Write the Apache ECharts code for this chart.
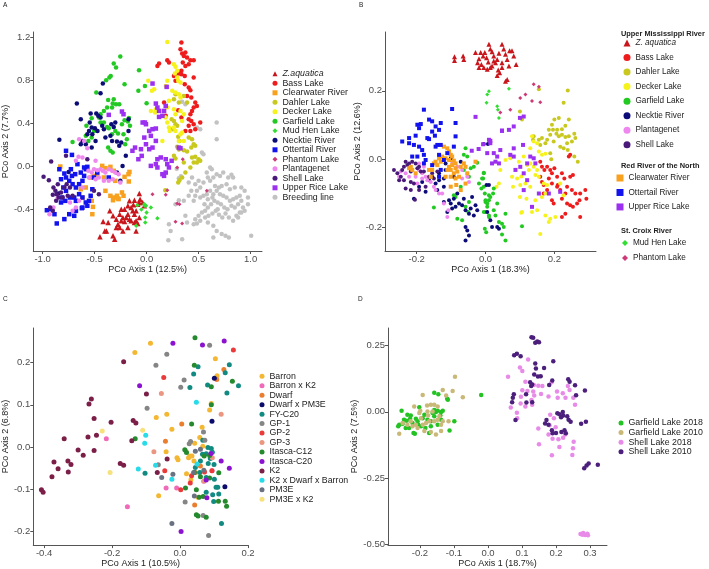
<!DOCTYPE html>
<html><head><meta charset="utf-8">
<script src="https://cdn.jsdelivr.net/npm/echarts@6/dist/echarts.min.js"></script>
<style>html,body{margin:0;padding:0;background:#fff}#c{width:709px;height:569px}</style>
</head><body><div id="c"></div>
<script>
// ---------- tick values ----------
const A_xTicks=[-1.0,-0.5,0.0,0.5,1.0], A_yTicks=[-0.4,0.0,0.4,0.8,1.2];
const B_xTicks=[-0.2,0.0,0.2], B_yTicks=[-0.2,0.0,0.2];
const C_xTicks=[-0.4,-0.2,0.0,0.2], C_yTicks=[-0.2,-0.1,0.0,0.1,0.2];
const D_xTicks=[-0.2,-0.1,0.0,0.1,0.2,0.3], D_yTicks=[-0.50,-0.25,0.00,0.25];

// ---------- Panel A ----------
const A_zaquatica=[[-0.449,-0.653],[-0.418,-0.511],[-0.402,-0.598],[-0.370,-0.520],[-0.323,-0.644],[-0.307,-0.675],[-0.291,-0.567],[-0.275,-0.536],[-0.259,-0.443],[-0.244,-0.396],[-0.228,-0.474],[-0.212,-0.511],[-0.196,-0.474],[-0.180,-0.443],[-0.165,-0.319],[-0.149,-0.381],[-0.133,-0.412],[-0.117,-0.443],[-0.101,-0.412],[-0.085,-0.350],[-0.070,-0.334],[-0.117,-0.520],[-0.149,-0.505],[-0.180,-0.567],[-0.228,-0.598],[-0.259,-0.567],[-0.212,-0.396],[-0.165,-0.489],[-0.101,-0.505],[-0.070,-0.474],[-0.180,-0.365],[-0.244,-0.505],[-0.291,-0.489],[-0.323,-0.458],[-0.354,-0.412],[-0.386,-0.598],[-0.101,-0.598],[-0.085,-0.529],[-0.117,-0.313],[-0.127,-0.356],[-0.070,-0.251],[-0.063,-0.303],[-0.038,-0.334],[-0.022,-0.365]];
const A_bass=[[0.335,1.152],[0.326,1.090],[0.342,1.050],[0.358,1.028],[0.373,1.059],[0.389,1.012],[0.348,0.966],[0.421,0.988],[0.453,0.988],[0.405,0.950],[0.373,0.935],[0.335,0.889],[0.310,0.864],[0.199,0.988],[0.215,0.966],[0.120,0.957],[0.104,0.935],[0.278,0.858],[0.335,0.858],[0.367,0.842],[0.453,0.827],[0.367,0.765],[0.405,0.734],[0.421,0.709],[0.389,0.656],[0.430,0.641],[0.468,0.594],[0.484,0.563],[0.453,0.548],[0.437,0.517],[0.421,0.486],[0.405,0.440],[0.430,0.424],[0.453,0.393],[0.516,0.409],[0.405,0.378],[0.468,0.347],[0.373,0.331],[0.278,0.796],[0.263,0.842],[0.304,0.523],[0.168,0.594],[0.184,0.471],[0.335,0.455],[0.421,0.331]];
const A_clearwater=[[-0.427,0.006],[-0.396,-0.015],[-0.348,-0.003],[-0.316,-0.040],[-0.475,-0.071],[-0.506,-0.087],[-0.538,-0.102],[-0.633,-0.211],[-0.585,-0.195],[-0.528,-0.319],[-0.516,-0.375],[-0.522,-0.443],[-0.396,-0.226],[-0.348,-0.272],[-0.316,-0.288],[-0.285,-0.272],[-0.269,-0.303],[-0.222,-0.272],[-0.237,-0.241],[-0.174,-0.071],[-0.212,-0.096],[-0.301,-0.133],[-0.411,-0.102],[-0.617,-0.288],[-0.171,-0.139],[-0.275,-0.297],[-0.323,-0.313],[-0.830,0.000],[-0.165,-0.050]];
const A_dahler=[[0.278,0.672],[0.263,0.625],[0.241,0.440],[0.263,0.424],[0.278,0.393],[0.294,0.378],[0.247,0.347],[0.304,0.276],[0.316,0.238],[0.294,0.183],[0.310,0.158],[0.358,0.152],[0.389,0.139],[0.405,0.269],[0.437,0.254],[0.453,0.207],[0.430,0.176],[0.468,0.192],[0.437,0.084],[0.468,0.090],[0.500,0.068],[0.516,0.053],[0.484,0.037],[0.453,0.037],[0.421,-0.009],[0.373,-0.056],[0.342,-0.102],[0.316,-0.127],[0.304,-0.149],[0.358,0.037],[0.278,0.074],[0.263,0.099],[0.358,0.656],[0.389,0.594],[0.310,0.594],[0.180,-0.220]];
const A_decker=[[0.199,1.158],[0.263,0.950],[0.278,0.926],[0.294,0.889],[0.272,0.864],[0.294,0.827],[0.304,0.796],[0.326,0.780],[0.199,0.796],[0.184,0.749],[0.247,0.703],[0.278,0.687],[0.310,0.672],[0.326,0.641],[0.215,0.610],[0.199,0.548],[0.263,0.533],[0.278,0.486],[0.184,0.455],[0.199,0.409],[0.215,0.362],[0.222,0.331],[0.278,0.331],[0.326,0.300],[0.342,0.316],[0.310,0.238],[0.358,0.238],[0.152,0.238],[0.082,0.502],[0.041,0.517],[0.051,0.703],[0.089,0.533],[0.326,0.517],[0.358,0.486],[0.342,0.424],[0.263,0.362],[0.073,0.718],[0.016,0.796]];
const A_garfield=[[-0.253,1.022],[-0.316,0.957],[-0.294,0.920],[-0.389,0.802],[-0.358,0.827],[-0.345,0.842],[-0.484,0.687],[-0.212,0.765],[-0.073,0.895],[-0.079,0.703],[-0.016,0.749],[0.000,0.588],[-0.370,0.619],[-0.316,0.625],[-0.326,0.585],[-0.294,0.579],[-0.263,0.579],[-0.332,0.548],[-0.459,0.455],[-0.443,0.409],[-0.411,0.409],[-0.528,0.449],[-0.579,0.378],[-0.560,0.238],[-0.506,0.331],[-0.380,0.368],[-0.364,0.356],[-0.332,0.300],[-0.301,0.331],[-0.275,0.307],[-0.222,0.300],[-0.190,0.254],[-0.206,0.207],[-0.370,0.176],[-0.348,0.146],[-0.326,0.130],[-0.712,0.229],[-0.585,0.285],[-0.528,0.269],[-0.443,0.486],[-0.411,0.517],[-0.380,0.548],[-0.237,0.393],[-0.212,0.430],[-0.180,0.418],[-0.170,0.450],[-0.160,0.380]];
const A_mudhen=[[-0.022,-0.350],[-0.006,-0.365],[0.041,-0.381],[0.000,-0.427],[-0.013,-0.474],[0.104,-0.480],[-0.013,-0.520],[-0.016,-0.365],[-0.090,-0.360],[-0.050,-0.400],[-0.100,-0.550]];
const A_necktie=[[-0.421,0.771],[-0.443,0.681],[-0.671,0.585],[-0.633,0.440],[-0.538,0.492],[-0.484,0.492],[-0.465,0.471],[-0.443,0.455],[-0.547,0.409],[-0.528,0.362],[-0.497,0.356],[-0.472,0.331],[-0.554,0.331],[-0.570,0.300],[-0.522,0.300],[-0.491,0.238],[-0.528,0.176],[-0.617,0.238],[-0.633,0.207],[-0.585,0.207],[-0.427,0.378],[-0.411,0.347],[-0.396,0.269],[-0.339,0.393],[-0.316,0.368],[-0.301,0.409],[-0.348,0.285],[-0.332,0.238],[-0.285,0.232],[-0.263,0.192],[-0.244,0.223],[-0.174,0.331],[-0.231,0.006],[-0.285,-0.056],[-0.253,-0.133],[-0.174,0.440],[-0.839,0.248],[-0.200,0.100],[-0.750,-0.050],[-0.850,-0.250]];
const A_ottertail=[[-0.775,0.146],[-0.718,0.108],[-0.839,-0.025],[-0.791,-0.065],[-0.823,-0.118],[-0.775,-0.102],[-0.744,-0.133],[-0.718,-0.087],[-0.687,-0.071],[-0.712,-0.164],[-0.680,-0.195],[-0.649,-0.164],[-0.617,-0.133],[-0.601,-0.087],[-0.585,-0.025],[-0.570,-0.003],[-0.601,-0.009],[-0.633,-0.056],[-0.801,-0.195],[-0.775,-0.226],[-0.813,-0.288],[-0.823,-0.334],[-0.782,-0.319],[-0.737,-0.288],[-0.696,-0.288],[-0.680,-0.319],[-0.649,-0.257],[-0.617,-0.288],[-0.585,-0.334],[-0.570,-0.365],[-0.617,-0.381],[-0.554,-0.319],[-0.538,-0.272],[-0.959,-0.406],[-0.918,-0.396],[-0.886,-0.443],[-0.864,-0.529],[-0.791,-0.489],[-0.744,-0.443],[-0.696,-0.458],[-0.680,-0.412],[-0.623,-0.387],[-0.522,-0.211],[-0.364,-0.102],[-0.728,-0.025],[-0.665,0.022],[-0.475,-0.056],[-0.506,-0.102]];
const A_phantom=[[0.057,-0.257],[0.184,-0.263],[0.199,-0.220],[0.294,-0.344],[0.316,-0.350],[0.278,-0.514],[0.342,-0.529],[0.579,-0.226],[0.348,0.068],[0.294,-0.009]];
const A_plantagenet=[[-0.649,0.254],[-0.601,0.238],[-0.570,0.170],[-0.655,0.090],[-0.617,0.084],[-0.560,-0.040],[-0.528,-0.056],[-0.506,-0.025],[-0.475,-0.034],[-0.443,-0.025],[-0.421,-0.040],[-0.396,-0.056],[-0.364,-0.025],[-0.332,-0.040],[-0.301,-0.056],[-0.269,-0.071],[-0.253,-0.149],[-0.326,-0.118],[-0.364,-0.133],[-0.411,-0.133],[-0.459,-0.102],[-0.491,-0.118],[-0.554,-0.102],[-0.617,-0.195],[-0.649,-0.319],[-0.680,-0.381],[-0.737,-0.334],[-0.854,-0.288],[-0.934,-0.443],[-0.896,-0.381],[-0.712,-0.412],[-0.491,0.053],[-0.680,0.053]];
const A_shell=[[-0.918,0.046],[-0.991,-0.096],[-0.940,-0.127],[-0.896,-0.195],[-0.877,-0.226],[-0.864,-0.257],[-0.845,-0.288],[-0.902,-0.263],[-0.823,-0.241],[-0.791,-0.195],[-0.769,-0.164],[-0.737,-0.195],[-0.854,-0.164],[-0.775,0.099],[-0.570,0.068],[-0.506,-0.226],[-0.459,-0.257],[-0.927,-0.381],[-0.902,-0.412],[-0.807,-0.288],[-0.759,-0.272],[-0.712,-0.272],[-0.870,-0.319]];
const A_upperrice=[[0.057,0.771],[0.089,0.585],[0.104,0.548],[0.120,0.517],[0.120,0.461],[0.152,0.471],[0.184,0.563],[0.168,0.517],[-0.038,0.409],[-0.006,0.393],[0.025,0.331],[0.057,0.347],[0.089,0.353],[0.041,0.285],[0.089,0.238],[0.057,0.176],[0.025,0.161],[-0.006,0.207],[-0.022,0.269],[0.104,0.068],[0.136,0.084],[0.184,0.068],[0.199,0.022],[0.089,0.022],[0.041,0.006],[0.104,-0.009],[0.152,-0.071],[0.168,-0.087],[0.184,-0.056],[0.215,-0.009],[0.241,0.053],[0.310,0.176],[0.326,0.170],[-0.364,0.480],[-0.237,0.511],[-0.222,0.486],[-0.016,0.409],[-0.111,0.176],[-0.136,0.146],[-0.054,0.161],[-0.047,0.099],[-0.079,0.068],[0.193,0.740]];
const A_breeding=[[0.674,0.409],[0.674,0.254],[0.342,0.601],[0.373,0.579],[0.484,0.362],[0.516,0.347],[0.532,0.130],[0.547,0.115],[0.611,-0.009],[0.627,-0.025],[0.579,-0.056],[0.642,-0.102],[0.674,-0.071],[0.706,-0.087],[0.737,-0.056],[0.785,-0.102],[0.816,-0.077],[0.832,-0.102],[0.848,-0.195],[0.801,-0.211],[0.769,-0.164],[0.722,-0.180],[0.696,-0.195],[0.658,-0.180],[0.611,-0.133],[0.589,-0.102],[0.547,-0.149],[0.516,-0.195],[0.484,-0.226],[0.468,-0.272],[0.453,-0.319],[0.516,-0.288],[0.547,-0.272],[0.579,-0.257],[0.611,-0.226],[0.642,-0.257],[0.674,-0.226],[0.706,-0.257],[0.737,-0.272],[0.769,-0.288],[0.801,-0.319],[0.832,-0.303],[0.864,-0.288],[0.896,-0.272],[0.911,-0.319],[0.880,-0.350],[0.848,-0.381],[0.816,-0.365],[0.778,-0.396],[0.747,-0.381],[0.715,-0.350],[0.684,-0.334],[0.652,-0.319],[0.620,-0.350],[0.589,-0.381],[0.563,-0.412],[0.532,-0.427],[0.500,-0.458],[0.468,-0.489],[0.453,-0.536],[0.484,-0.529],[0.516,-0.505],[0.563,-0.474],[0.595,-0.458],[0.633,-0.437],[0.665,-0.412],[0.696,-0.449],[0.728,-0.474],[0.759,-0.437],[0.791,-0.474],[0.832,-0.505],[0.880,-0.474],[0.911,-0.427],[0.943,-0.412],[0.975,-0.350],[0.927,-0.381],[0.896,-0.427],[0.864,-0.458],[0.589,-0.520],[0.642,-0.551],[0.674,-0.598],[0.722,-0.628],[0.759,-0.644],[0.791,-0.659],[1.006,-0.644],[0.642,-0.659],[0.373,-0.458],[0.389,-0.520],[0.342,-0.675],[0.215,-0.536],[0.231,-0.598],[0.209,-0.684],[0.278,-0.350],[0.310,-0.313],[0.358,-0.319],[0.405,-0.272],[0.430,-0.226],[0.468,-0.164],[0.500,-0.133],[0.437,-0.102],[0.405,-0.149],[0.911,-0.195],[0.943,-0.226],[0.975,-0.288],[0.684,-0.396],[0.633,-0.288],[0.589,-0.303],[0.557,-0.350],[0.290,-0.020],[0.330,-0.090],[0.310,-0.110]];

// ---------- Panel B ----------
const B_zaquatica=[[-0.090,0.300],[-0.090,0.289],[-0.065,0.302],[-0.063,0.292],[-0.029,0.312],[-0.014,0.312],[-0.007,0.302],[-0.019,0.294],[-0.002,0.312],[0.003,0.297],[0.010,0.336],[0.014,0.322],[0.019,0.314],[0.024,0.302],[0.008,0.284],[-0.012,0.277],[-0.005,0.268],[0.005,0.263],[0.019,0.273],[0.029,0.282],[0.034,0.292],[0.039,0.310],[0.048,0.336],[0.053,0.322],[0.058,0.307],[0.063,0.292],[0.070,0.317],[0.077,0.317],[0.082,0.302],[0.089,0.277],[0.068,0.273],[0.048,0.282],[0.034,0.245],[0.041,0.253],[0.058,0.228],[0.063,0.233],[0.048,0.268],[0.037,0.261],[-0.019,0.268],[-0.023,0.282],[0.024,0.287],[0.014,0.268]];
const B_bass=[[0.159,-0.007],[0.164,-0.022],[0.171,-0.031],[0.179,-0.022],[0.188,-0.031],[0.193,-0.041],[0.200,-0.026],[0.208,-0.051],[0.222,-0.041],[0.229,-0.056],[0.246,-0.051],[0.254,-0.046],[0.159,-0.051],[0.164,-0.066],[0.169,-0.075],[0.184,-0.056],[0.193,-0.071],[0.208,-0.080],[0.217,-0.090],[0.232,-0.100],[0.237,-0.129],[0.246,-0.134],[0.254,-0.139],[0.266,-0.129],[0.273,-0.120],[0.275,-0.100],[0.261,-0.100],[0.290,-0.090],[0.293,-0.115],[0.275,-0.169],[0.232,-0.159],[0.222,-0.169],[0.222,-0.115],[0.237,-0.080],[0.251,-0.090],[0.193,-0.120],[0.198,-0.129],[0.242,0.008],[0.246,0.013],[0.210,-0.075],[0.179,-0.090],[0.169,-0.100]];
const B_dahler=[[0.239,0.201],[0.227,0.165],[0.242,0.116],[0.213,0.121],[0.200,0.116],[0.193,0.101],[0.184,0.086],[0.196,0.086],[0.206,0.075],[0.213,0.067],[0.222,0.072],[0.232,0.065],[0.242,0.067],[0.258,0.075],[0.261,0.062],[0.251,0.052],[0.237,0.047],[0.227,0.032],[0.217,0.037],[0.239,0.027],[0.258,0.008],[0.268,-0.007],[0.198,0.052],[0.179,0.057],[0.164,0.062],[0.155,0.057],[0.140,0.067],[0.138,0.057],[0.159,0.042],[0.174,0.047],[0.106,0.116],[0.188,0.018],[0.191,0.000],[0.188,0.072],[0.208,0.086],[0.222,0.088],[0.232,0.098],[0.155,0.205],[0.100,0.140]];
const B_decker=[[0.135,0.067],[0.140,0.052],[0.150,0.047],[0.130,0.032],[0.155,0.023],[0.164,0.013],[0.174,0.016],[0.072,0.003],[0.058,-0.002],[0.097,-0.007],[0.111,0.008],[0.121,-0.017],[0.130,-0.012],[0.126,-0.031],[0.140,-0.022],[0.150,-0.031],[0.145,-0.046],[0.155,-0.051],[0.169,-0.071],[0.179,-0.075],[0.174,-0.100],[0.164,-0.110],[0.145,-0.120],[0.130,-0.080],[0.116,-0.071],[0.101,-0.075],[0.092,-0.056],[0.077,-0.051],[0.043,-0.031],[0.039,-0.071],[0.032,-0.080],[0.106,-0.154],[0.135,-0.154],[0.150,-0.149],[0.174,-0.164],[0.184,-0.183],[0.188,-0.174],[0.203,-0.169],[0.159,-0.218],[0.080,-0.080],[0.227,-0.105],[0.217,-0.071],[0.100,-0.110],[0.119,-0.115],[0.104,-0.156],[0.104,-0.050]];
const B_garfield=[[-0.005,-0.039],[-0.007,-0.056],[-0.005,-0.080],[0.024,-0.085],[0.022,-0.100],[0.014,-0.110],[0.010,-0.120],[0.000,-0.125],[0.005,-0.139],[0.000,-0.154],[0.034,-0.129],[0.058,-0.159],[0.039,-0.183],[0.048,-0.188],[0.053,-0.198],[0.048,-0.220],[0.058,-0.237],[0.106,-0.196],[0.010,-0.164],[0.029,-0.164],[0.024,-0.149],[-0.058,0.032],[-0.063,0.013],[-0.053,0.008],[-0.063,-0.031],[-0.043,-0.026],[-0.034,-0.022],[-0.005,-0.041],[-0.010,-0.056],[-0.019,-0.071],[-0.012,-0.085],[-0.002,-0.100],[0.010,-0.105],[0.000,-0.120],[0.005,-0.129],[-0.005,-0.154],[-0.050,-0.154],[-0.058,-0.139],[-0.087,-0.110],[-0.082,-0.174],[-0.068,-0.178],[-0.150,-0.141],[-0.002,-0.203],[0.002,-0.213],[0.010,-0.169],[-0.024,-0.010],[-0.048,-0.051],[-0.072,-0.080],[-0.092,-0.105],[-0.048,-0.125]];
const B_necktie=[[-0.208,-0.115],[-0.135,-0.041],[-0.121,-0.056],[-0.116,-0.031],[-0.106,-0.120],[-0.101,-0.129],[-0.097,-0.144],[-0.087,-0.139],[-0.077,-0.129],[-0.068,-0.134],[-0.058,-0.149],[-0.048,-0.159],[-0.043,-0.144],[-0.029,-0.134],[-0.024,-0.149],[-0.034,-0.164],[-0.058,-0.198],[-0.053,-0.208],[-0.048,-0.223],[-0.058,-0.237],[-0.111,-0.154],[-0.121,-0.125],[-0.092,-0.115],[-0.082,-0.100],[-0.135,-0.061],[-0.145,-0.071],[-0.155,-0.051],[-0.164,-0.061],[-0.121,-0.080],[-0.140,-0.090],[-0.072,-0.007],[-0.101,0.003],[-0.116,-0.012],[-0.193,-0.080],[-0.184,-0.066],[-0.174,-0.095],[-0.092,-0.051],[-0.063,-0.115],[-0.039,-0.110],[0.003,-0.075],[0.010,-0.075],[0.005,-0.154],[0.014,-0.178],[0.034,-0.198],[0.039,-0.203],[0.019,-0.198],[-0.005,0.045],[0.007,0.045]];
const B_plantagenet=[[-0.251,-0.051],[-0.246,-0.036],[-0.232,-0.041],[-0.222,-0.051],[-0.203,-0.051],[-0.193,-0.031],[-0.184,-0.041],[-0.174,-0.051],[-0.169,-0.061],[-0.159,-0.066],[-0.184,-0.056],[-0.198,-0.071],[-0.150,-0.080],[-0.145,-0.090],[-0.135,-0.100],[-0.126,-0.100],[-0.082,-0.022],[-0.068,-0.031],[-0.053,-0.051],[-0.048,-0.066],[-0.068,-0.056],[-0.121,-0.129],[-0.108,-0.149],[-0.111,-0.169],[-0.193,-0.012],[-0.179,-0.022],[-0.097,-0.007]];
const B_shell=[[-0.266,-0.031],[-0.256,-0.041],[-0.246,-0.051],[-0.242,-0.031],[-0.237,-0.022],[-0.227,-0.017],[-0.222,-0.012],[-0.213,-0.007],[-0.203,-0.012],[-0.193,-0.022],[-0.188,-0.036],[-0.179,-0.036],[-0.198,-0.026],[-0.251,-0.061],[-0.237,-0.061],[-0.217,-0.066],[-0.208,-0.071],[-0.232,-0.085],[-0.217,-0.090],[-0.193,-0.090],[-0.174,-0.080],[-0.164,-0.051],[-0.155,-0.041],[-0.150,-0.056],[-0.140,-0.036],[-0.205,-0.118],[-0.232,-0.007],[-0.217,-0.036]];
const B_clearwater=[[-0.121,0.037],[-0.111,0.032],[-0.106,0.023],[-0.126,0.008],[-0.116,0.003],[-0.106,-0.002],[-0.101,0.013],[-0.097,0.008],[-0.092,-0.004],[-0.087,-0.012],[-0.097,-0.017],[-0.106,-0.022],[-0.111,-0.031],[-0.101,-0.031],[-0.087,-0.026],[-0.082,-0.036],[-0.092,-0.041],[-0.101,-0.051],[-0.116,-0.051],[-0.087,-0.056],[-0.077,-0.051],[-0.072,-0.022],[-0.063,-0.012],[-0.058,-0.022],[-0.135,0.003],[-0.145,-0.007],[-0.150,-0.012],[-0.217,-0.022],[-0.213,-0.031],[-0.222,-0.026],[-0.203,-0.041],[-0.164,-0.031],[-0.155,-0.031],[-0.053,-0.041],[-0.029,-0.007],[-0.085,-0.075],[-0.101,-0.080],[-0.072,-0.090],[-0.058,-0.071],[-0.140,-0.017],[-0.130,-0.007],[-0.159,-0.051]];
const B_ottertail=[[-0.179,0.145],[-0.097,0.147],[-0.198,0.101],[-0.193,0.091],[-0.188,0.103],[-0.164,0.116],[-0.155,0.111],[-0.145,0.096],[-0.135,0.086],[-0.130,0.106],[-0.147,0.069],[-0.155,0.081],[-0.169,0.062],[-0.164,0.059],[-0.203,0.069],[-0.222,0.062],[-0.242,0.052],[-0.208,0.042],[-0.193,0.037],[-0.184,0.027],[-0.213,0.008],[-0.198,0.008],[-0.179,0.013],[-0.145,0.037],[-0.140,0.042],[-0.130,0.042],[-0.087,0.106],[-0.087,0.067],[-0.092,0.037],[-0.111,0.018],[-0.135,0.013],[-0.121,-0.002],[-0.179,-0.012],[-0.174,-0.002],[-0.130,-0.031],[-0.135,-0.051],[-0.155,-0.017],[-0.222,0.047]];
const B_upperrice=[[0.100,0.121],[0.111,0.125],[0.082,0.096],[0.068,0.086],[0.048,0.084],[0.010,0.057],[0.014,0.047],[0.005,0.018],[0.024,0.018],[0.034,0.008],[0.029,-0.007],[0.019,-0.012],[0.039,-0.012],[0.043,0.027],[0.072,0.013],[0.082,0.008],[0.101,-0.022],[0.111,-0.041],[0.121,-0.061],[0.111,-0.090],[0.121,-0.012],[0.130,0.008],[0.140,0.003],[0.145,-0.012],[0.155,-0.100],[0.184,-0.100],[0.135,-0.139],[0.082,0.032],[0.109,0.042],[0.217,-0.095],[0.087,-0.031],[-0.029,0.124],[-0.020,0.030],[-0.040,0.025],[-0.007,0.044],[0.014,0.054],[0.048,0.083]];
const B_mudhen=[[0.010,0.199],[0.005,0.189],[0.003,0.165],[0.034,0.155],[0.036,0.145],[0.039,0.121],[0.068,0.206]];
const B_phantom=[[0.140,0.219],[0.155,0.212],[0.101,0.179],[0.116,0.189],[0.135,0.170],[0.159,0.167],[0.072,0.145],[0.043,0.137]];

// ---------- Panel C ----------
const C_barron=[[-0.133,0.224],[-0.087,0.246],[0.104,0.209],[0.109,0.169],[0.087,0.088],[0.065,0.047],[0.058,0.023],[-0.070,0.070],[-0.039,0.078],[-0.024,0.042],[-0.041,-0.011],[-0.009,-0.025],[-0.006,-0.030],[0.025,-0.025],[0.035,-0.021],[0.043,0.009],[0.067,0.002],[0.032,-0.077],[0.053,-0.119],[-0.063,-0.115],[0.041,-0.033],[0.019,-0.063],[0.092,0.103],[0.029,-0.021],[0.017,-0.009]];
const C_barronK2=[[-0.217,0.020],[-0.155,-0.141],[-0.041,-0.097],[-0.010,-0.097],[0.070,-0.081],[0.094,-0.056]];
const C_dwarf=[[0.005,0.055],[-0.043,0.014],[0.129,0.184],[0.108,0.160],[0.043,-0.137],[0.045,-0.060],[0.060,-0.045]];
const C_dwarfPM3E=[[0.101,0.163],[0.094,0.061],[0.132,-0.094]];
const C_fyc20=[[0.053,0.190],[0.040,0.173],[0.029,0.141],[0.081,0.147],[0.145,0.195],[0.133,0.176],[0.172,0.145],[0.138,0.128],[0.067,0.016],[0.082,-0.001],[0.092,-0.003],[0.095,-0.012],[0.066,-0.017],[0.077,-0.016],[0.060,-0.033],[0.045,-0.048],[0.083,-0.039],[0.100,-0.041],[0.058,-0.060],[0.077,-0.072],[0.101,-0.076],[0.106,-0.095],[0.111,-0.095],[0.077,-0.107],[0.096,-0.113],[0.099,-0.129],[0.114,-0.111],[0.122,-0.181],[0.089,-0.027],[-0.103,-0.062]];
const C_gp1=[[-0.039,0.220],[-0.071,0.194],[0.012,0.159],[0.002,0.142],[0.087,0.241],[-0.097,0.092],[0.031,0.013],[0.027,0.008],[0.073,0.016],[0.069,0.036],[0.015,-0.130],[0.068,-0.162],[0.084,-0.209],[-0.064,-0.042]];
const C_gp2=[[0.157,0.230],[-0.048,0.165],[-0.045,-0.056],[0.002,-0.101],[0.072,-0.059],[0.094,-0.056],[0.034,-0.068],[0.030,-0.085]];
const C_gp3=[[-0.055,0.127],[0.121,0.078],[-0.077,-0.011],[0.070,-0.080],[0.095,-0.025]];
const C_itascaC12=[[0.044,0.259],[0.042,0.194],[0.092,0.100],[0.092,0.143],[0.154,0.156],[0.034,0.055],[0.014,-0.006],[0.019,-0.013],[-0.132,0.020],[0.042,-0.060],[0.060,-0.070],[0.048,-0.101],[0.056,-0.119],[0.068,-0.117],[0.087,-0.073],[0.114,-0.061],[0.133,-0.128],[0.137,-0.140],[0.113,-0.128],[0.048,-0.160],[0.053,-0.163],[0.077,-0.166],[0.016,-0.097],[0.087,-0.020],[0.071,-0.021]];
const C_itascaC20=[[-0.021,0.246],[0.066,0.242],[0.130,0.251],[-0.119,0.145],[0.091,-0.015],[0.121,-0.033],[0.145,-0.050],[0.077,-0.078],[0.079,-0.120],[0.003,-0.200]];
const C_k2=[[-0.166,0.202],[-0.261,0.114],[-0.268,0.102],[-0.253,0.068],[-0.203,0.059],[-0.138,0.063],[-0.130,0.057],[-0.142,0.015],[-0.246,0.028],[-0.271,0.024],[-0.341,0.020],[-0.300,-0.007],[-0.285,-0.019],[-0.253,-0.008],[-0.330,-0.033],[-0.321,-0.041],[-0.371,-0.035],[-0.359,-0.051],[-0.329,-0.059],[-0.377,-0.070],[-0.408,-0.101],[-0.403,-0.107],[-0.176,-0.039],[-0.166,-0.043],[-0.099,0.126],[-0.038,-0.028],[-0.067,-0.060]];
const C_k2DwarfBarron=[[0.048,0.106],[-0.101,0.028],[-0.104,0.009],[-0.123,-0.052],[-0.072,-0.043],[-0.024,-0.076],[0.050,-0.040]];
const C_pm3e=[[-0.024,-0.181],[-0.021,-0.064],[-0.054,-0.072],[0.042,-0.116],[0.045,-0.010],[0.060,-0.005],[0.040,-0.060],[0.070,-0.055]];
const C_pm3eK2=[[-0.229,0.038],[-0.206,-0.060],[-0.110,0.040]];

// ---------- Panel D ----------
const D_garfield2018=[[-0.254,0.004],[-0.261,-0.049],[-0.264,-0.055],[-0.247,-0.030],[-0.251,-0.045],[-0.239,-0.034],[-0.232,-0.061],[-0.227,-0.014],[-0.219,-0.080],[-0.215,-0.083],[-0.207,-0.036],[-0.202,0.017],[-0.205,-0.049],[-0.197,-0.055],[-0.187,-0.011],[-0.184,-0.061],[-0.173,-0.080],[-0.168,-0.055],[-0.163,-0.005],[-0.158,0.007],[-0.153,-0.001],[-0.148,0.004],[-0.138,-0.001],[-0.140,-0.014],[-0.133,0.004],[-0.158,0.072],[-0.146,0.066],[-0.120,0.049],[-0.118,0.045],[-0.099,-0.036],[-0.113,-0.071],[-0.020,0.063],[-0.168,-0.036],[-0.178,-0.030],[-0.192,-0.024],[-0.212,-0.026],[-0.222,-0.042],[-0.242,-0.061],[-0.229,-0.026],[-0.237,-0.011],[-0.158,-0.017],[-0.148,-0.049],[-0.138,-0.030]];
const D_garfield2010=[[-0.261,-0.083],[-0.251,-0.042],[-0.237,-0.049],[-0.227,-0.036],[-0.217,0.020],[-0.202,-0.005],[-0.197,-0.024],[-0.192,0.063],[-0.179,0.024],[-0.176,-0.014],[-0.173,-0.036],[-0.168,0.026],[-0.158,0.026],[-0.148,0.020],[-0.143,-0.017],[-0.138,-0.049],[-0.133,0.082],[-0.123,0.061],[-0.116,-0.036],[-0.104,0.078],[-0.097,0.132],[-0.074,0.055],[-0.153,-0.086],[-0.168,-0.076],[-0.187,-0.073],[-0.207,-0.061],[-0.222,-0.055],[-0.182,-0.042],[-0.158,-0.036],[-0.212,-0.049],[-0.192,-0.049],[-0.178,0.001],[-0.148,-0.030],[-0.133,-0.036],[-0.163,0.001],[-0.199,0.004],[-0.138,-0.073]];
const D_shell2018=[[0.059,0.132],[0.094,0.167],[0.101,0.154],[0.118,0.197],[0.110,0.113],[0.101,0.081],[0.116,0.078],[0.135,0.101],[0.148,0.098],[0.160,0.097],[0.156,0.067],[0.133,0.076],[0.136,0.061],[0.128,0.044],[0.130,0.026],[0.110,0.020],[0.096,0.031],[0.097,0.057],[0.067,0.016],[0.085,-0.004],[0.086,-0.024],[0.187,0.111],[0.178,0.058],[0.203,0.076],[0.220,0.070],[0.235,0.097],[0.240,0.082],[0.205,0.053],[0.228,0.053],[0.251,0.053],[0.256,0.026],[0.183,-0.011],[0.194,-0.024],[0.181,-0.051],[0.199,-0.058],[0.148,-0.063],[0.178,-0.086],[0.190,-0.102],[0.207,-0.104],[0.221,-0.098],[0.227,-0.086],[0.252,-0.113],[0.250,-0.138],[0.248,-0.163],[0.210,-0.133],[0.188,-0.164],[0.150,-0.123],[0.272,-0.461],[0.280,-0.457],[0.286,-0.465],[0.292,-0.460],[0.294,-0.466],[0.278,-0.464]];
const D_shell2010=[[0.128,0.281],[0.133,0.279],[0.139,0.260],[0.145,0.265],[0.150,0.262],[0.077,0.213],[0.085,0.219],[0.096,0.209],[0.192,0.191],[0.139,0.182],[0.165,0.165],[0.141,0.163],[0.136,0.141],[0.147,0.133],[0.155,0.134],[0.124,0.111],[0.130,0.103],[0.127,0.097],[0.189,0.118],[0.180,0.101],[0.236,0.123],[0.240,0.113],[0.256,0.100],[0.285,0.080],[0.259,0.062],[0.076,0.066],[0.073,0.053],[0.071,0.036],[0.112,0.066],[0.113,0.035],[0.130,0.036],[0.204,-0.006],[0.210,-0.009],[0.220,-0.001],[0.221,-0.014],[0.215,-0.021],[0.233,-0.017],[0.237,-0.030],[0.243,-0.038],[0.274,-0.045],[0.288,-0.038],[0.172,-0.031],[0.168,-0.044],[0.178,-0.049],[0.188,-0.070],[0.190,-0.081],[0.200,-0.080],[0.216,-0.076],[0.225,-0.070],[0.229,-0.081],[0.081,-0.031],[0.283,-0.213],[0.290,-0.203],[0.296,-0.195],[0.323,-0.200]];

// ---------- build ----------
const FONT='"Liberation Sans", Arial, sans-serif';
function xAx(g,min,max,ticks,name,dec,gap){return{type:'value',gridIndex:g,min:min,max:max,name:name,nameLocation:'middle',nameGap:gap,
 nameTextStyle:{fontSize:9,color:'#222',fontFamily:FONT},
 axisLine:{onZero:false,lineStyle:{color:'#555',width:1}},
 axisTick:{show:true,length:3,lineStyle:{color:'#555'},customValues:ticks},
 axisLabel:{customValues:ticks,formatter:v=>v.toFixed(dec),fontSize:9.5,color:'#4d4d4d',margin:3,fontFamily:FONT},
 splitLine:{show:false}};}
function yAx(g,min,max,ticks,name,dec,gap){const a=xAx(g,min,max,ticks,name,dec,gap);a.nameRotate=90;return a;}

const series=[];
function sc(name,ax,data,color,symbol,size){series.push({type:'scatter',name:name,xAxisIndex:ax,yAxisIndex:ax,data:data,symbol:symbol,symbolSize:size,itemStyle:{color:color,opacity:1},emphasis:{disabled:true},silent:true,animation:false});}

const col={zaq:'#c8161c',bass:'#ee1c1c',clear:'#f7a11e',dahler:'#c9c81e',decker:'#f6f21c',garf:'#22c922',mud:'#33dd33',neck:'#0c0c78',otter:'#1212ee',phan:'#cc3a77',plant:'#ee88ee',shell:'#4a1a7a',rice:'#9b30f0',breed:'#c2c2c2'};

// Panel A (axis 0)
sc('A|Breeding line',0,A_breeding,col.breed,'circle',4.5);
sc('A|Z.aquatica',0,A_zaquatica,col.zaq,'triangle',5.5);
sc('A|Bass Lake',0,A_bass,col.bass,'circle',4.5);
sc('A|Clearwater River',0,A_clearwater,col.clear,'rect',4.5);
sc('A|Dahler Lake',0,A_dahler,col.dahler,'circle',4.5);
sc('A|Decker Lake',0,A_decker,col.decker,'circle',4.5);
sc('A|Garfield Lake',0,A_garfield,col.garf,'circle',4.5);
sc('A|Mud Hen Lake',0,A_mudhen,col.mud,'diamond',4.5);
sc('A|Necktie River',0,A_necktie,col.neck,'circle',4.5);
sc('A|Ottertail River',0,A_ottertail,col.otter,'rect',4.5);
sc('A|Phantom Lake',0,A_phantom,col.phan,'diamond',4);
sc('A|Plantagenet',0,A_plantagenet,col.plant,'circle',4.5);
sc('A|Shell Lake',0,A_shell,col.shell,'circle',4.5);
sc('A|Upper Rice Lake',0,A_upperrice,col.rice,'rect',4.5);

// Panel B (axis 1)
sc('B|Z. aquatica',1,B_zaquatica,col.zaq,'triangle',5);
sc('B|Bass Lake',1,B_bass,col.bass,'circle',4);
sc('B|Dahler Lake',1,B_dahler,col.dahler,'circle',4);
sc('B|Decker Lake',1,B_decker,col.decker,'circle',4);
sc('B|Garfield Lake',1,B_garfield,col.garf,'circle',4);
sc('B|Necktie River',1,B_necktie,col.neck,'circle',4);
sc('B|Plantagenet',1,B_plantagenet,col.plant,'circle',4);
sc('B|Shell Lake',1,B_shell,col.shell,'circle',4);
sc('B|Clearwater River',1,B_clearwater,col.clear,'rect',4);
sc('B|Ottertail River',1,B_ottertail,col.otter,'rect',4);
sc('B|Upper Rice Lake',1,B_upperrice,col.rice,'rect',4);
sc('B|Mud Hen Lake',1,B_mudhen,col.mud,'diamond',4);
sc('B|Phantom Lake',1,B_phantom,col.phan,'diamond',4);

// Panel C (axis 2)
const cc={barron:'#f4b731',bk2:'#f06aba',dwarf:'#ea7e2e',dpm:'#0b0b6b',fy:'#118a82',gp1:'#858585',gp2:'#ea3a3a',gp3:'#ea9680',c12:'#25892d',c20:'#8b12cf',k2:'#7c1f48',kdb:'#27dbe8',pm3e:'#6a7282',pk2:'#f7e17c'};
sc('C|Barron',2,C_barron,cc.barron,'circle',5);
sc('C|Barron x K2',2,C_barronK2,cc.bk2,'circle',5);
sc('C|Dwarf',2,C_dwarf,cc.dwarf,'circle',5);
sc('C|Dwarf x PM3E',2,C_dwarfPM3E,cc.dpm,'circle',5);
sc('C|FY-C20',2,C_fyc20,cc.fy,'circle',5);
sc('C|GP-1',2,C_gp1,cc.gp1,'circle',5);
sc('C|GP-2',2,C_gp2,cc.gp2,'circle',5);
sc('C|GP-3',2,C_gp3,cc.gp3,'circle',5);
sc('C|Itasca-C12',2,C_itascaC12,cc.c12,'circle',5);
sc('C|Itasca-C20',2,C_itascaC20,cc.c20,'circle',5);
sc('C|K2',2,C_k2,cc.k2,'circle',5);
sc('C|K2 x Dwarf x Barron',2,C_k2DwarfBarron,cc.kdb,'circle',5);
sc('C|PM3E',2,C_pm3e,cc.pm3e,'circle',5);
sc('C|PM3E x K2',2,C_pm3eK2,cc.pk2,'circle',5);

// Panel D (axis 3)
sc('D|Garfield Lake 2018',3,D_garfield2018,'#22c322','circle',4.5);
sc('D|Garfield Lake 2010',3,D_garfield2010,'#c9b877','circle',4.5);
sc('D|Shell Lake 2018',3,D_shell2018,'#e88ae8','circle',4.5);
sc('D|Shell Lake 2010',3,D_shell2010,'#4b1f7b','circle',4.5);

const fmt=n=>n.split('|')[1];
function lg(left,top,iw,gap,fs,items){return{left:left,top:top,padding:0,orient:'vertical',itemWidth:iw,itemHeight:iw,itemGap:gap,selectedMode:false,formatter:fmt,
 textStyle:{fontSize:fs,color:'#222',fontFamily:FONT},data:items};}
const it=(n,icon,extra)=>Object.assign({name:n,icon:icon},extra||{});
const ital={textStyle:{fontStyle:'italic'}};

const legends=[
 lg(272.5,69.3,5,0.5,8.8,[it('A|Z.aquatica','triangle',ital),it('A|Bass Lake','circle'),it('A|Clearwater River','rect'),it('A|Dahler Lake','circle'),it('A|Decker Lake','circle'),it('A|Garfield Lake','circle'),it('A|Mud Hen Lake','diamond'),it('A|Necktie River','circle'),it('A|Ottertail River','rect'),it('A|Phantom Lake','diamond'),it('A|Plantagenet','circle'),it('A|Shell Lake','circle'),it('A|Upper Rice Lake','rect'),it('A|Breeding line','circle')]),
 lg(623.5,39,7,6.54,8.2,[it('B|Z. aquatica','triangle',ital),it('B|Bass Lake','circle'),it('B|Dahler Lake','circle'),it('B|Decker Lake','circle'),it('B|Garfield Lake','circle'),it('B|Necktie River','circle'),it('B|Plantagenet','circle'),it('B|Shell Lake','circle')]),
 lg(616.5,174,7,6.47,8.2,[it('B|Clearwater River','rect'),it('B|Ottertail River','rect'),it('B|Upper Rice Lake','rect')]),
 lg(622,239,6,6.97,8.2,[it('B|Mud Hen Lake','diamond'),it('B|Phantom Lake','diamond')]),
 lg(259.5,371.8,5,0.46,8.8,['Barron','Barron x K2','Dwarf','Dwarf x PM3E','FY-C20','GP-1','GP-2','GP-3','Itasca-C12','Itasca-C20','K2','K2 x Dwarf x Barron','PM3E','PM3E x K2'].map(n=>it('C|'+n,'circle'))),
 lg(618.5,418.5,5,0.6,8.8,['Garfield Lake 2018','Garfield Lake 2010','Shell Lake 2018','Shell Lake 2010'].map(n=>it('D|'+n,'circle')))
];

const txt=(x,y,s,fs,bold)=>({type:'text',left:x,top:y,silent:true,style:{text:s,fontSize:fs,fontWeight:bold?'bold':'normal',fill:'#222',fontFamily:FONT}});

const option={
 backgroundColor:'#fff',animation:false,
 grid:[
  {left:29,top:32,width:233,height:219},
  {left:385,top:32,width:211,height:219},
  {left:29,top:328,width:219,height:219},
  {left:388,top:328,width:219,height:219}
 ],
 xAxis:[
  xAx(0,-1.09,1.11,A_xTicks,'PCo Axis 1 (12.5%)',1,12),
  xAx(1,-0.292,0.321,B_xTicks,'PCo Axis 1 (18.3%)',1,12),
  xAx(2,-0.432,0.200,C_xTicks,'PCo Axis 1 (10.5%)',1,12),
  xAx(3,-0.294,0.350,D_xTicks,'PCo Axis 1 (18.7%)',1,12)
 ],
 yAxis:[
  yAx(0,-0.785,1.25,A_yTicks,'PCo Axis 2 (7.7%)',1,18),
  yAx(1,-0.268,0.372,B_yTicks,'PCo Axis 2 (12.6%)',1,20),
  yAx(2,-0.232,0.282,C_yTicks,'PCo Axis 2 (6.8%)',1,18),
  yAx(3,-0.503,0.316,D_yTicks,'PCo Axis 2 (7.5%)',2,23)
 ],
 legend:legends,
 graphic:[
  txt(3,2,'A',6.5),txt(359,2,'B',6.5),txt(3,296,'C',6.5),txt(358,296,'D',6.5),
  txt(621,30.3,'Upper Mississippi River',7.4,true),
  txt(621,162.3,'Red River of the North',7.4,true),
  txt(621,227.3,'St. Croix River',7.4,true)
 ],
 series:series
};
const chart=echarts.init(document.getElementById('c'),null,{renderer:'canvas'});
chart.setOption(option);
</script></body></html>
